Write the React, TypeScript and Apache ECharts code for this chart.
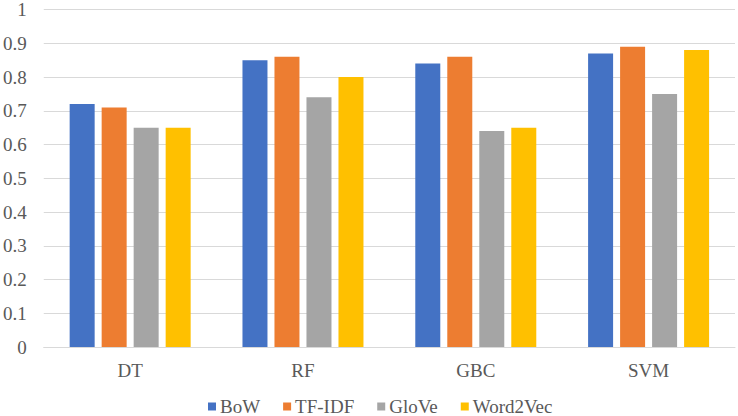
import React, { useEffect, useRef } from "react";
import * as echarts from "echarts";

const categories = ["DT", "RF", "GBC", "SVM"];
const seriesNames = ["BoW", "TF-IDF", "GloVe", "Word2Vec"];
const bow = [0.72, 0.85, 0.84, 0.87];
const tfidf = [0.71, 0.86, 0.86, 0.89];
const glove = [0.65, 0.74, 0.64, 0.75];
const word2vec = [0.65, 0.8, 0.65, 0.88];
const colors = ["#4472C4", "#ED7D31", "#A5A5A5", "#FFC000"];

export default function App() {
  const ref = useRef<HTMLDivElement>(null);
  useEffect(() => {
    document.body.style.margin = "0";
    const chart = echarts.init(ref.current!, null, { renderer: "svg" });
    const font = "Liberation Serif";
    const data = [bow, tfidf, glove, word2vec];
    chart.setOption({
      animation: false,
      textStyle: { fontFamily: font, fontSize: 19 },
      grid: { left: 43, right: 3, top: 7, bottom: 69, containLabel: false },
      legend: {
        top: 392,
        left: 203,
        itemWidth: 8,
        itemHeight: 8,
        itemGap: 23,
        icon: "rect",
        textStyle: { fontFamily: font, fontSize: 19, color: "#595959", padding: [0, 0, 0, -1] },
        data: seriesNames,
      },
      xAxis: {
        type: "category",
        data: categories,
        axisLine: { lineStyle: { color: "#D9D9D9", width: 1 } },
        axisTick: { show: false },
        axisLabel: { fontFamily: font, fontSize: 19, color: "#595959", margin: 14 },
      },
      yAxis: {
        type: "value",
        min: 0,
        max: 1,
        interval: 0.1,
        axisLine: { show: false },
        axisTick: { show: false },
        splitLine: { lineStyle: { color: "#D9D9D9", width: 1 } },
        axisLabel: {
          fontFamily: font,
          fontSize: 19,
          color: "#595959",
          margin: 17,
          formatter: (v: number) => String(Math.round(v * 10) / 10),
        },
      },
      series: seriesNames.map((name, i) => ({
        name,
        type: "bar",
        data: data[i],
        barWidth: 25,
        barGap: "28%",
        itemStyle: { color: colors[i] },
      })),
    });
    return () => chart.dispose();
  }, []);
  return <div ref={ref} style={{ width: 738, height: 416 }} />;
}
